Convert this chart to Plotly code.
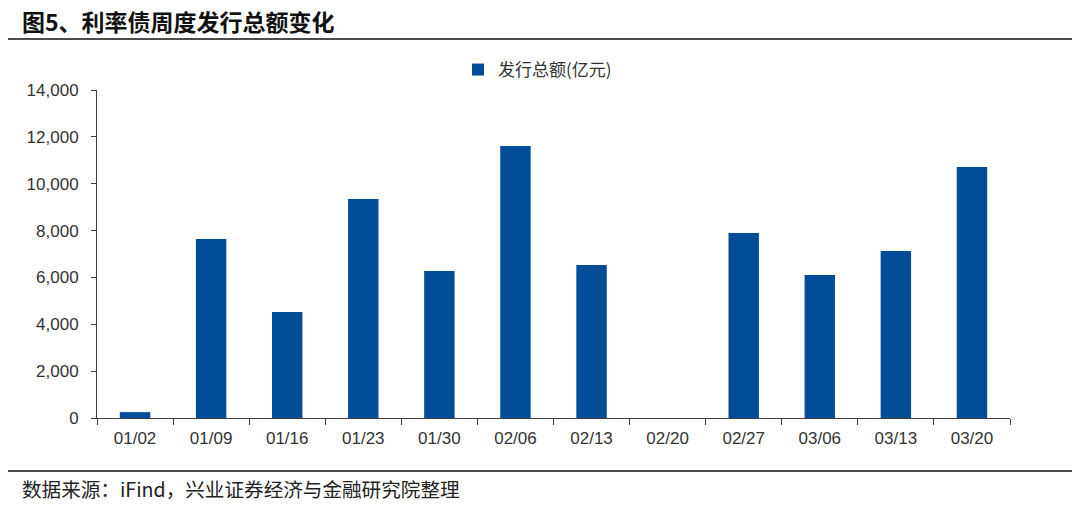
import plotly.graph_objects as go

categories = ["01/02", "01/09", "01/16", "01/23", "01/30", "02/06", "02/13",
              "02/20", "02/27", "03/06", "03/13", "03/20"]
issuance = [250, 7640, 4520, 9350, 6270, 11610, 6530, 0, 7900, 6100, 7130, 10710]
y_ticks = [0, 2000, 4000, 6000, 8000, 10000, 12000, 14000]
y_tick_labels = ["0", "2,000", "4,000", "6,000", "8,000", "10,000", "12,000", "14,000"]

FONT = "Liberation Sans, Noto Sans CJK SC, sans-serif"
CJK = "Noto Sans CJK SC, Liberation Sans, sans-serif"

# plot area in page pixels
PX0, PX1, PY0, PY1 = 97, 1010, 90, 418
W, H = PX1 - PX0, PY1 - PY0


def px(x):
    return (x - PX0) / W


def py(y):
    return (PY1 - y) / H


fig = go.Figure()
fig.add_trace(go.Bar(
    x=categories, y=issuance, name="发行总额(亿元)",
    marker=dict(color="#004C97", line=dict(width=0)),
))

fig.update_layout(
    width=1080, height=507,
    margin=dict(l=PX0, r=1080 - PX1, t=PY0, b=507 - PY1, autoexpand=False),
    paper_bgcolor="white", plot_bgcolor="white",
    bargap=0.6,
    showlegend=True,
    legend=dict(orientation="h", x=px(458), xanchor="left", y=py(70), yanchor="middle",
                font=dict(family=CJK, size=17, color="#333333"),
                itemwidth=30, bgcolor="rgba(0,0,0,0)"),
    xaxis=dict(
        type="category", showline=True, linecolor="#404040", linewidth=1,
        ticks="outside", ticklen=6, tickcolor="#404040",
        tickson="boundaries", showgrid=False, ticklabelstandoff=5,
        tickfont=dict(family=FONT, size=17, color="#333333"),
    ),
    yaxis=dict(
        range=[0, 14000], tickvals=y_ticks, ticktext=y_tick_labels,
        showline=True, linecolor="#404040", linewidth=1,
        ticks="outside", ticklen=5, tickcolor="#404040",
        showgrid=False, zeroline=False, ticklabelstandoff=9,
        tickfont=dict(family=FONT, size=17, color="#333333"),
    ),
    annotations=[
        dict(text="<b>图5、利率债周度发行总额变化</b>", x=px(20), xref="paper", xanchor="left",
             y=py(21), yref="paper", yanchor="middle",
             showarrow=False, font=dict(family=CJK, size=23, color="#111111")),
        dict(text="数据来源：iFind，兴业证券经济与金融研究院整理", x=px(20), xref="paper", xanchor="left",
             y=py(488), yref="paper", yanchor="middle",
             showarrow=False, font=dict(family=CJK, size=19.6, color="#222222")),
    ],
    shapes=[
        dict(type="line", xref="paper", yref="paper", x0=px(8), x1=px(1072),
             y0=py(39), y1=py(39), line=dict(color="#111111", width=1.5)),
        dict(type="line", xref="paper", yref="paper", x0=px(8), x1=px(1072),
             y0=py(471), y1=py(471), line=dict(color="#111111", width=1.5)),
    ],
)

fig.write_html(
    "out.html",
    config={"displayModeBar": False},
    post_script="document.body.style.margin='0';document.body.style.overflow='hidden';",
)
